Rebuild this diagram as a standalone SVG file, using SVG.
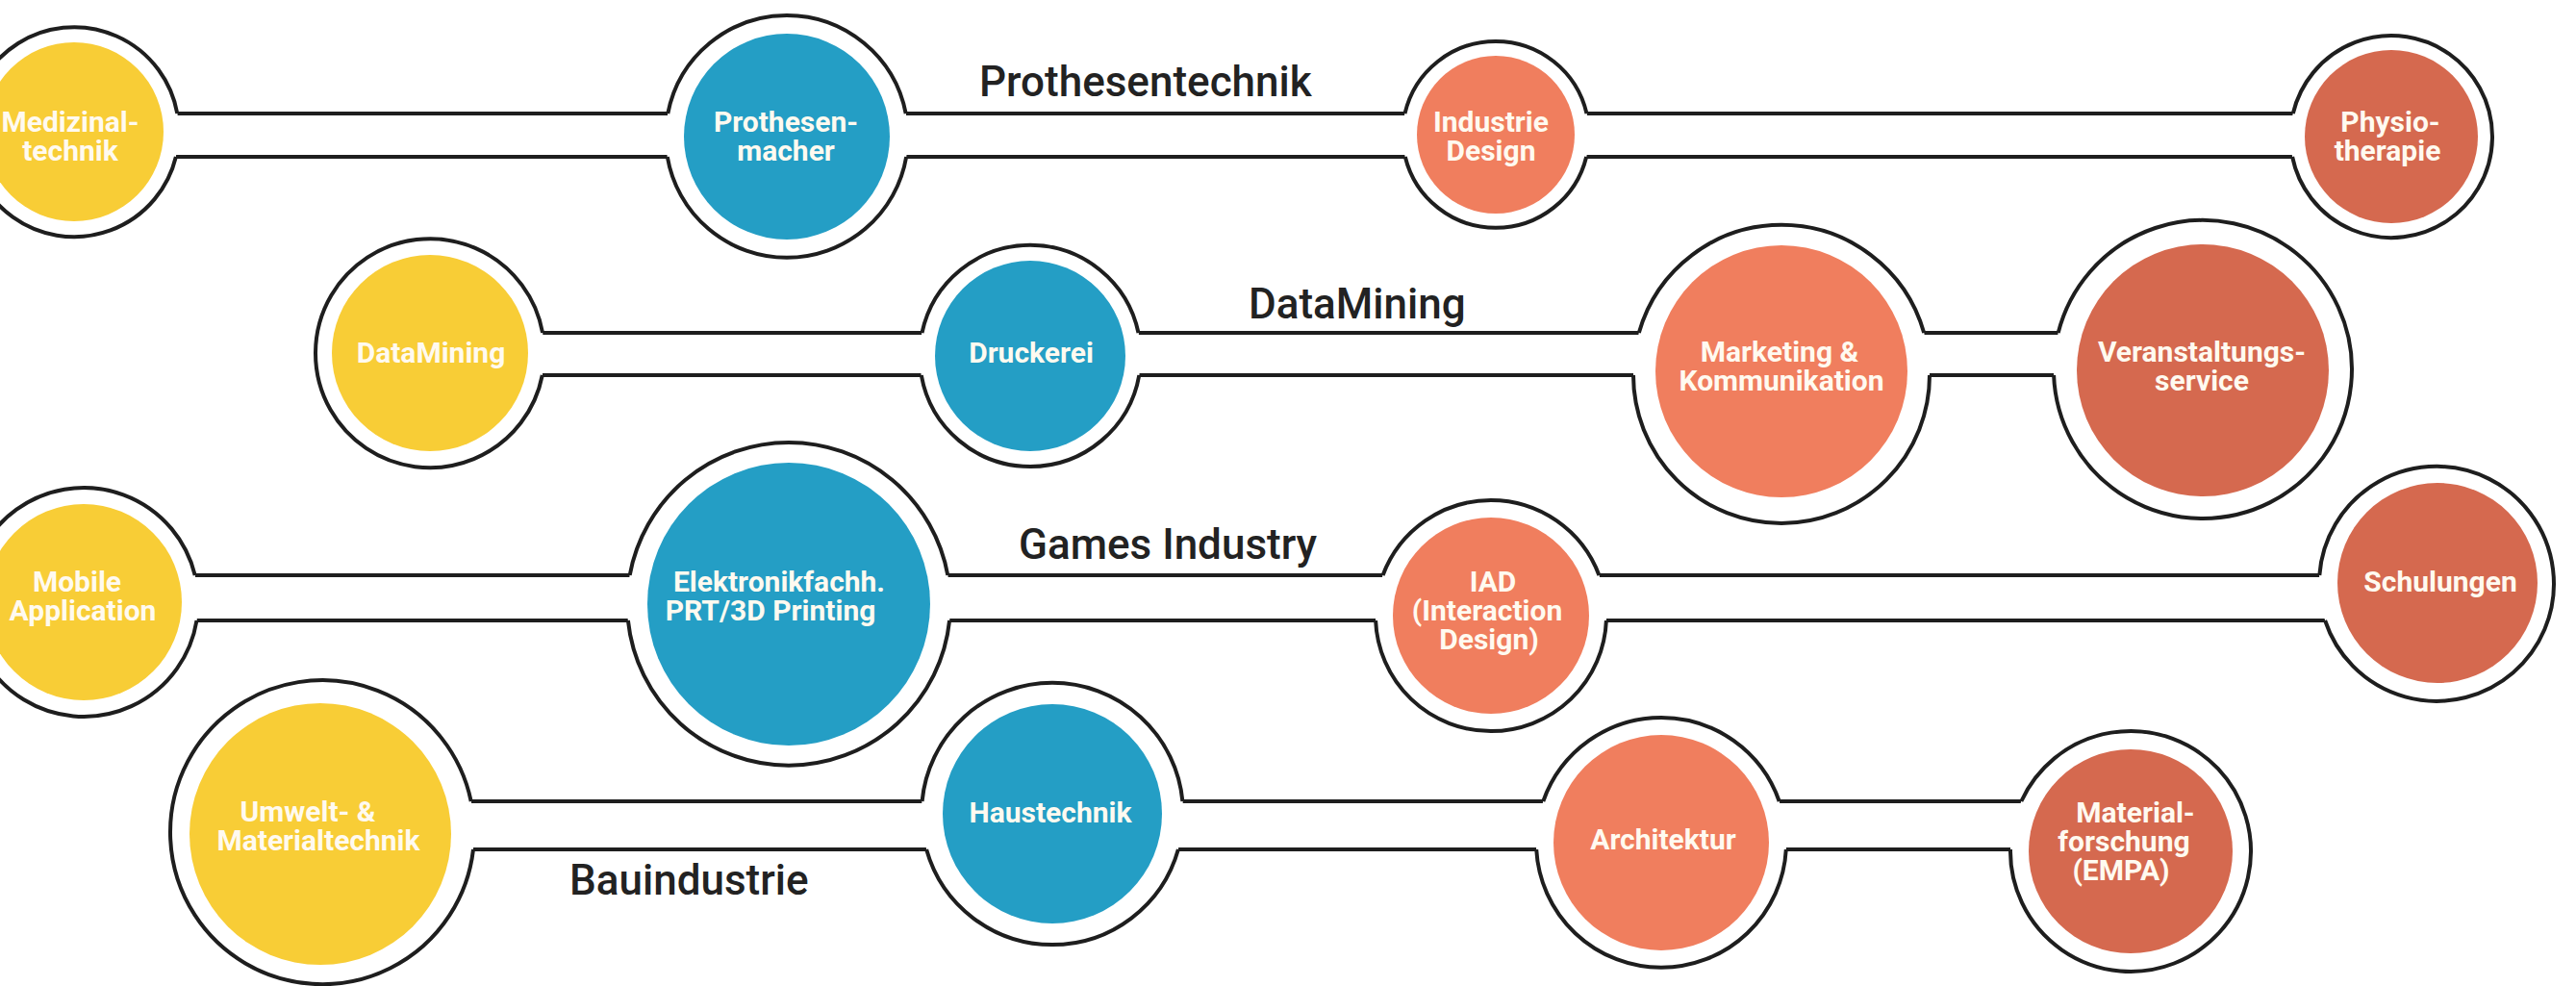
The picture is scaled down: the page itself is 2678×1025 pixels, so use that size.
<svg xmlns="http://www.w3.org/2000/svg" width="2678" height="1025" viewBox="0 0 2678 1025">
<style>
.bg{fill:#fff}
.ring{fill:#fff;stroke:none}
.outline{fill:none;stroke:#1e1e1e;stroke-width:4}
.conn{fill:none;stroke:#1e1e1e;stroke-width:4}
.yel{fill:#F8CD36}
.blu{fill:#249EC5}
.cor{fill:#F07E5E}
.dk{fill:#D5694F}
.lbl{font-family:Roboto,"Liberation Sans",sans-serif;font-weight:700;font-size:30px;fill:#fffaf0;text-anchor:middle}
.title{font-family:Roboto,"Liberation Sans",sans-serif;font-weight:500;font-size:44px;fill:#222}
</style>
<rect class="bg" x="0" y="0" width="2678" height="1025"/>
<g id="connectors">
<path class="conn" d="M184.3,118H694.3M941.7,118H1460.5M1649.5,118H2383.8M182.9,163H693.8M942.2,163H1460.8M1649.2,163H2383.1"/>
<path class="conn" d="M564.1,346H958.5M1183.5,346H1703.8M2000.2,346H2139.7M563.8,390H957.8M1184.3,390H1698.0M2006.0,390H2135.1"/>
<path class="conn" d="M202.7,598H654.7M985.3,598H1437.6M1662.4,598H2411.3M204.5,645H652.9M987.1,645H1430.1M1669.9,645H2417.1"/>
<path class="conn" d="M489.7,833H958.6M1229.4,833H1604.3M1849.7,833H2101.3M492,883H963.1M1224.9,883H1597.2M1856.8,883H2090.0"/>
</g>
<g id="titles">
<text class="title" x="1018" y="100">Prothesentechnik</text>
<text class="title" x="1298" y="331">DataMining</text>
<text class="title" x="1059" y="581">Games Industry</text>
<text class="title" x="592" y="930">Bauindustrie</text>
</g>
<g id="n-medizinaltechnik">
<circle class="ring" cx="77" cy="137" r="109"/>
<path class="outline" d="M184.3,118A109,109 0 1 0 182.9,163"/>
<circle class="yel" cx="77" cy="137" r="93"/>
<text class="lbl"><tspan x="73" y="137">Medizinal-</tspan><tspan x="73" y="167">technik</tspan></text>
</g>
<g id="n-prothesenmacher">
<circle class="ring" cx="818" cy="142" r="126"/>
<path class="outline" d="M694.3,118A126,126 0 0 1 941.7,118M942.2,163A126,126 0 0 1 693.8,163"/>
<circle class="blu" cx="818" cy="142" r="107"/>
<text class="lbl"><tspan x="817" y="137">Prothesen-</tspan><tspan x="817" y="167">macher</tspan></text>
</g>
<g id="n-industriedesign">
<circle class="ring" cx="1555" cy="140" r="97"/>
<path class="outline" d="M1460.5,118A97,97 0 0 1 1649.5,118M1649.2,163A97,97 0 0 1 1460.8,163"/>
<circle class="cor" cx="1555" cy="140" r="82"/>
<text class="lbl"><tspan x="1550" y="137">Industrie</tspan><tspan x="1550" y="167">Design</tspan></text>
</g>
<g id="n-physiotherapie">
<circle class="ring" cx="2486" cy="142" r="105"/>
<path class="outline" d="M2383.8,118A105,105 0 1 1 2383.1,163"/>
<circle class="dk" cx="2486" cy="142" r="90"/>
<text class="lbl"><tspan x="2485" y="137">Physio-</tspan><tspan x="2482" y="167">therapie</tspan></text>
</g>
<g id="n-datamining">
<circle class="ring" cx="447" cy="367" r="119"/>
<path class="outline" d="M564.1,346A119,119 0 1 0 563.8,390"/>
<circle class="yel" cx="447" cy="367" r="102"/>
<text class="lbl" x="448" y="377">DataMining</text>
</g>
<g id="n-druckerei">
<circle class="ring" cx="1071" cy="370" r="115"/>
<path class="outline" d="M958.5,346A115,115 0 0 1 1183.5,346M1184.3,390A115,115 0 0 1 957.8,390"/>
<circle class="blu" cx="1071" cy="370" r="99"/>
<text class="lbl" x="1072" y="377">Druckerei</text>
</g>
<g id="n-marketing">
<circle class="ring" cx="1852" cy="388" r="154"/>
<path class="outline" d="M1703.8,346A154,154 0 0 1 2000.2,346M2006.0,390A154,154 0 0 1 1698.0,390"/>
<circle class="cor" cx="1852" cy="386" r="131"/>
<text class="lbl"><tspan x="1850" y="376">Marketing &amp;</tspan><tspan x="1852" y="406">Kommunikation</tspan></text>
</g>
<g id="n-veranstaltungsservice">
<circle class="ring" cx="2290" cy="384" r="155"/>
<path class="outline" d="M2139.7,346A155,155 0 1 1 2135.1,390"/>
<circle class="dk" cx="2290" cy="385" r="131"/>
<text class="lbl"><tspan x="2289" y="376">Veranstaltungs-</tspan><tspan x="2289" y="406">service</tspan></text>
</g>
<g id="n-mobileapplication">
<circle class="ring" cx="87" cy="626" r="119"/>
<path class="outline" d="M202.7,598A119,119 0 1 0 204.5,645"/>
<circle class="yel" cx="87" cy="626" r="102"/>
<text class="lbl"><tspan x="80" y="615">Mobile</tspan><tspan x="86" y="645">Application</tspan></text>
</g>
<g id="n-elektronik">
<circle class="ring" cx="820" cy="628" r="168"/>
<path class="outline" d="M654.7,598A168,168 0 0 1 985.3,598M987.1,645A168,168 0 0 1 652.9,645"/>
<circle class="blu" cx="820" cy="628" r="147"/>
<text class="lbl"><tspan x="810" y="615">Elektronikfachh.</tspan><tspan x="801" y="645">PRT/3D Printing</tspan></text>
</g>
<g id="n-iad">
<circle class="ring" cx="1550" cy="640" r="120"/>
<path class="outline" d="M1437.6,598A120,120 0 0 1 1662.4,598M1669.9,645A120,120 0 0 1 1430.1,645"/>
<circle class="cor" cx="1550" cy="640" r="102"/>
<text class="lbl"><tspan x="1552" y="615">IAD</tspan><tspan x="1546" y="645">(Interaction</tspan><tspan x="1548" y="675">Design)</tspan></text>
</g>
<g id="n-schulungen">
<circle class="ring" cx="2533" cy="607" r="122"/>
<path class="outline" d="M2411.3,598A122,122 0 1 1 2417.1,645"/>
<circle class="dk" cx="2534" cy="606" r="104"/>
<text class="lbl" x="2537" y="615">Schulungen</text>
</g>
<g id="n-umwelt">
<circle class="ring" cx="335" cy="865" r="158"/>
<path class="outline" d="M489.7,833A158,158 0 1 0 492,883"/>
<circle class="yel" cx="333" cy="867" r="136"/>
<text class="lbl"><tspan x="320" y="854">Umwelt- &amp;</tspan><tspan x="331" y="884">Materialtechnik</tspan></text>
</g>
<g id="n-haustechnik">
<circle class="ring" cx="1094" cy="846" r="136"/>
<path class="outline" d="M958.6,833A136,136 0 0 1 1229.4,833M1224.9,883A136,136 0 0 1 963.1,883"/>
<circle class="blu" cx="1094" cy="846" r="114"/>
<text class="lbl" x="1092" y="855">Haustechnik</text>
</g>
<g id="n-architektur">
<circle class="ring" cx="1727" cy="876" r="130"/>
<path class="outline" d="M1604.3,833A130,130 0 0 1 1849.7,833M1856.8,883A130,130 0 0 1 1597.2,883"/>
<circle class="cor" cx="1727" cy="876" r="112"/>
<text class="lbl" x="1729" y="883">Architektur</text>
</g>
<g id="n-materialforschung">
<circle class="ring" cx="2215" cy="885" r="125"/>
<path class="outline" d="M2101.3,833A125,125 0 1 1 2090.0,883"/>
<circle class="dk" cx="2215" cy="885" r="106"/>
<text class="lbl"><tspan x="2220" y="855">Material-</tspan><tspan x="2208" y="885">forschung</tspan><tspan x="2205" y="915">(EMPA)</tspan></text>
</g>
</svg>
